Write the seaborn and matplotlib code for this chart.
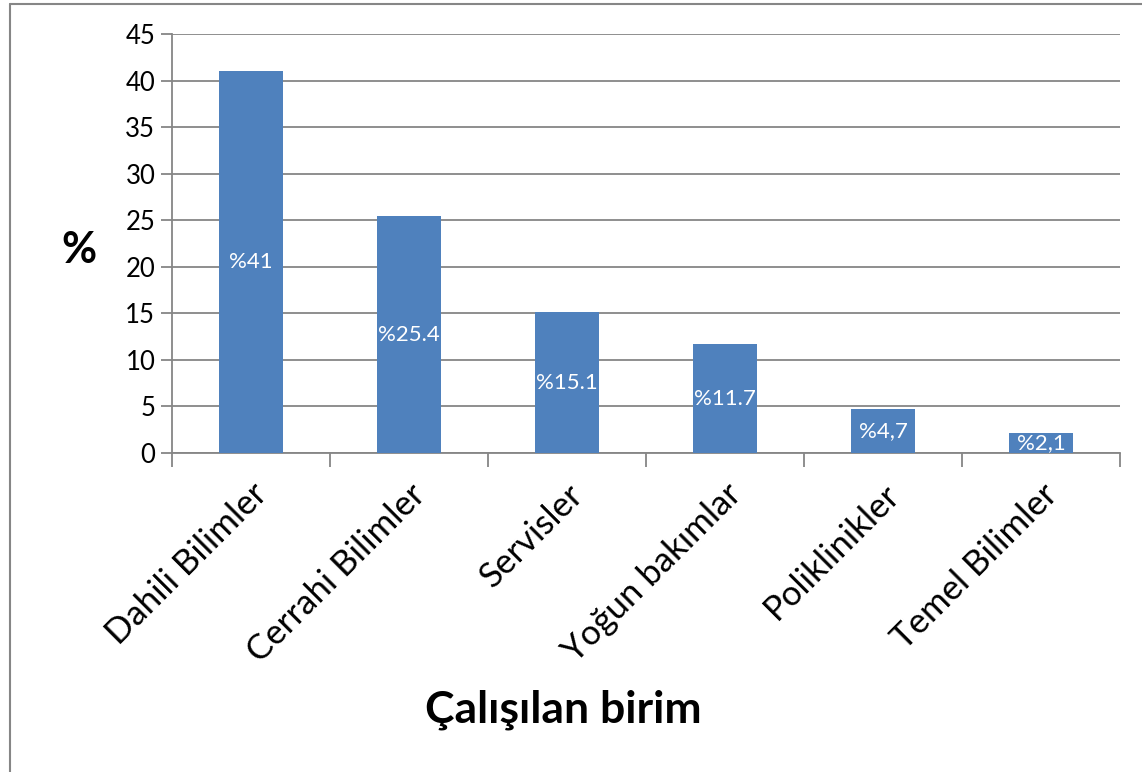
import matplotlib
matplotlib.use("Agg")
import matplotlib.pyplot as plt
import seaborn as sns
import pandas as pd
from matplotlib.lines import Line2D

categories = ["Dahili Bilimler", "Cerrahi Bilimler", "Servisler", "Yoğun bakımlar", "Poliklinikler", "Temel Bilimler"]
values = [41.0, 25.4, 15.1, 11.7, 4.7, 2.1]
value_labels = ["%41", "%25.4", "%15.1", "%11.7", "%4,7", "%2,1"]
y_ticks = [0, 5, 10, 15, 20, 25, 30, 35, 40, 45]

sns.set_theme(style="white")
plt.rcParams["font.family"] = ["Lato", "DejaVu Sans"]

df = pd.DataFrame({"birim": categories, "yuzde": values})

fig = plt.figure(figsize=(11.42, 7.72), dpi=100)
ax = fig.add_axes([172/1142, 1-453/772, (1120-172)/1142, (453-34)/772])

sns.barplot(data=df, x="birim", y="yuzde", color="#4F81BD", saturation=1,
            width=0.405, ax=ax, zorder=3)
for p in ax.patches:
    p.set_edgecolor("none")

ax.bar_label(ax.containers[0], labels=value_labels, label_type="center",
             color="white", fontsize=16)

ax.set_ylim(0, 45)
ax.set_xlim(-0.5, len(categories) - 0.5)
ax.set_yticks(y_ticks)
ax.set_yticklabels([str(t) for t in y_ticks], fontsize=18.5, color="black")
ax.yaxis.grid(True, color="#868686", linewidth=1.3, zorder=0)
ax.set_axisbelow(True)

# x ticks at category boundaries
ax.set_xticks([i + 0.5 for i in range(-1, len(categories))], minor=False)
ax.set_xticklabels([])
ax.set_xticks(range(len(categories)), minor=True)
ax.set_xticklabels(categories, minor=True, rotation=45, ha="right",
                   rotation_mode="anchor", fontsize=25, color="black")
ax.tick_params(axis="x", which="major", length=10, width=1.3, color="#868686", bottom=True)
ax.tick_params(axis="x", which="minor", length=0, pad=18)
ax.tick_params(axis="y", which="major", length=8, width=1.3, color="#868686", left=True, pad=4)

for s in ["top", "right"]:
    ax.spines[s].set_visible(False)
for s in ["left", "bottom"]:
    ax.spines[s].set_color("#868686")
    ax.spines[s].set_linewidth(1.3)

ax.set_xlabel("")
ax.set_ylabel("")

fig.text(563/1142, 1-710/772, "Çalışılan birim", fontsize=32, fontweight="bold",
         ha="center", va="center", color="black")
fig.text(79/1142, 1-250/772, "%", fontsize=31, fontweight="bold",
         ha="center", va="center", color="black")

# outer chart frame (left and top edges visible)
fig.add_artist(Line2D([10/1142, 10/1142], [0, 1-4/772], transform=fig.transFigure,
                      color="#868686", linewidth=1.5))
fig.add_artist(Line2D([10/1142, 1], [1-4/772, 1-4/772], transform=fig.transFigure,
                      color="#868686", linewidth=1.5))

fig.savefig("out.png", dpi=100)
